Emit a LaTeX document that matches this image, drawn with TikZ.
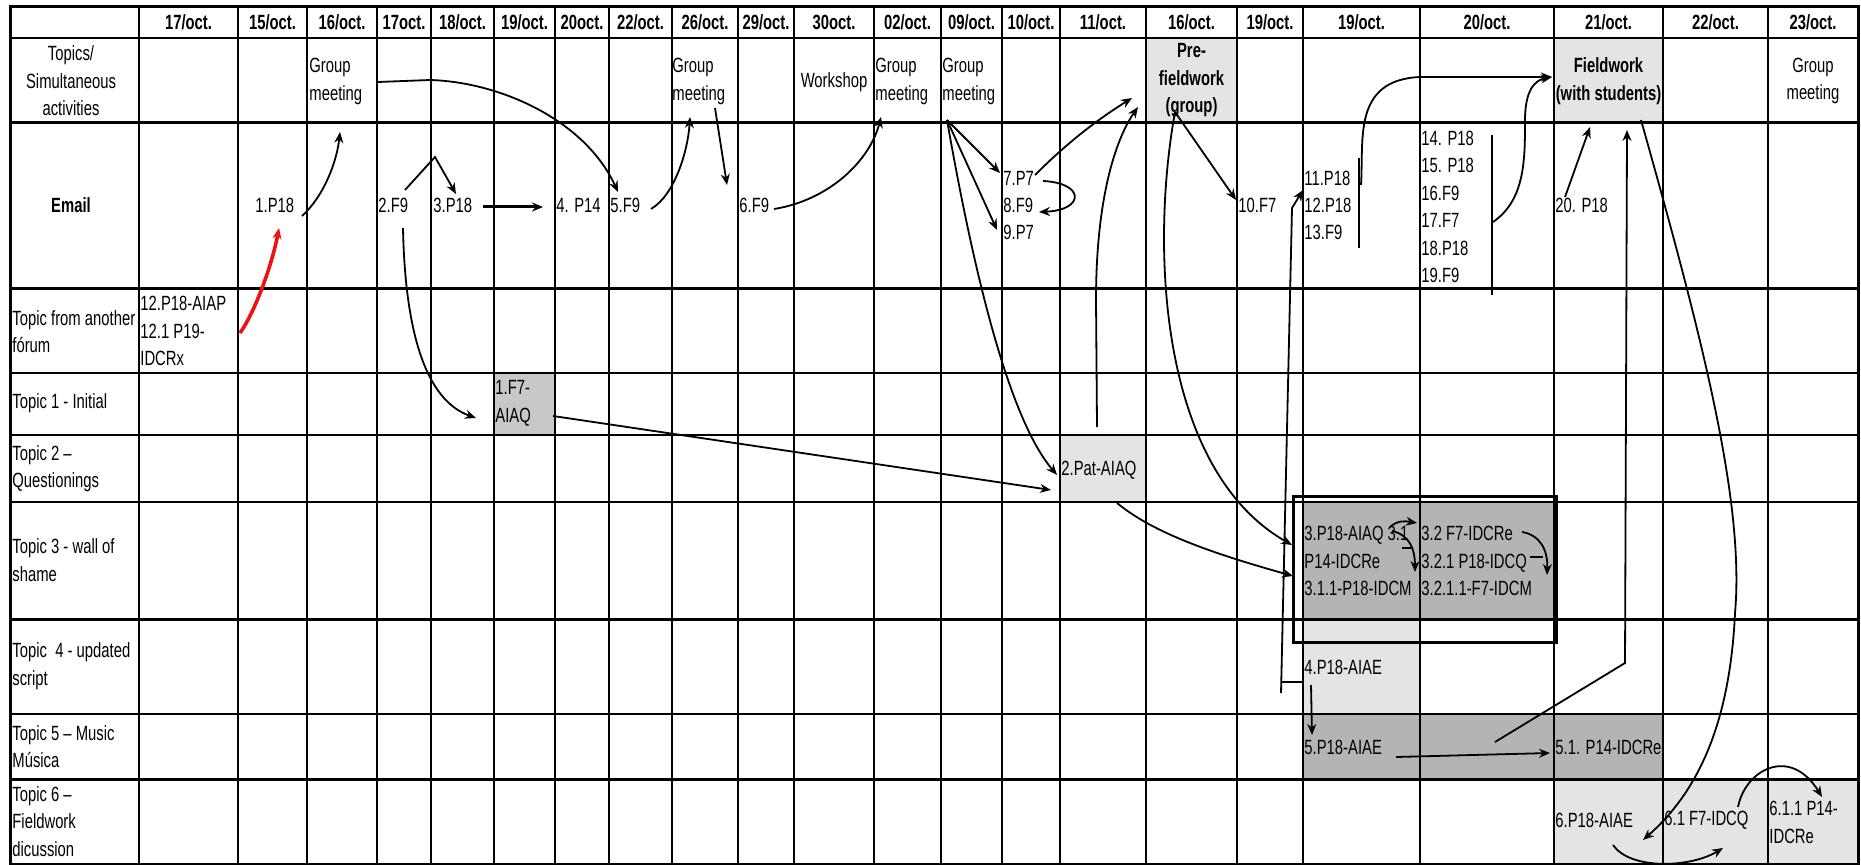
\documentclass[tikz,border=0pt]{standalone}
\usepackage{fontspec}
\setmainfont{Liberation Sans}[FakeStretch=0.72]
\usetikzlibrary{arrows.meta, calc, positioning}
\definecolor{cellLight}{RGB}{228,228,228}
\definecolor{cellMid}{RGB}{200,200,200}
\definecolor{cellDark}{RGB}{180,180,180}
\definecolor{flowRed}{RGB}{235,20,20}
\newcommand{\cellfont}{\fontsize{10.3}{13.7}\selectfont}

\begin{document}
\begin{tikzpicture}[
    x=0.5pt, y=-0.5pt,
    cell/.style={inner sep=0pt, anchor=west, align=left, font=\cellfont},
    mid/.style={inner sep=0pt, align=center, font=\cellfont},
    head/.style={inner sep=0pt, align=center, font={\cellfont\bfseries}},
    flow/.style={-{Stealth[length=5.5pt,width=4.5pt]}, line width=0.9pt},
    bar/.style={line width=0.9pt},
    grid/.style={line width=0.9pt},
    rule/.style={line width=1.5pt}
  ]
  \useasboundingbox (0,0) rectangle (1861,865);

  % shaded cells
  \fill[cellLight] (1146,38) rectangle (1237,123);
  \fill[cellLight] (1554,38) rectangle (1663,123);
  \fill[cellMid] (494,373) rectangle (555,435);
  \fill[cellLight] (1060,435) rectangle (1146,502);
  \fill[cellDark] (1303,502) rectangle (1554,619);
  \fill[cellLight] (1303,619) rectangle (1420,714);
  \fill[cellDark] (1303,714) rectangle (1663,779);
  \fill[cellLight] (1554,779) rectangle (1858,864);

  % table lines
  \foreach \x in {139,238,307,377,431,494,555,609,672,738,794,874,941,1002,1060,1146,1237,1303,1420,1554,1663,1768}
    \draw[grid] (\x,7) -- (\x,864);
  \foreach \y in {38,373,435,502,714}
    \draw[grid] (10,\y) -- (1858,\y);
  \foreach \y in {123,289,619,779}
    \draw[rule] (10,\y) -- (1858,\y);
  \draw[rule] (10,7) rectangle (1858,864);

  % dates
  \foreach \a/\b/\t [count=\i] in {139/238/{17/oct.}, 238/307/{15/oct.}, 307/377/{16/oct.},
      377/431/{17oct.}, 431/494/{18/oct.}, 494/555/{19/oct.}, 555/609/{20oct.},
      609/672/{22/oct.}, 672/738/{26/oct.}, 738/794/{29/oct.}, 794/874/{30oct.},
      874/941/{02/oct.}, 941/1002/{09/oct.}, 1002/1060/{10/oct.}, 1060/1146/{11/oct.},
      1146/1237/{16/oct.}, 1237/1303/{19/oct.}, 1303/1420/{19/oct.}, 1420/1554/{20/oct.},
      1554/1663/{21/oct.}, 1663/1768/{22/oct.}, 1768/1858/{23/oct.}}
    \node[head] (d\i) at ({(\a+\b)/2},22.5) {\t};

  % row labels
  \node[mid] (top) at (71,81) {Topics/\\Simultaneous\\activities};
  \node[head] (lemail) at (71,205) {Email};
  \node[cell] (lother) at (12,331.5) {Topic from another\\fórum};
  \node[cell] (l1) at (12,403) {Topic 1 - Initial};
  \node[cell] (l2) at (12,468.5) {Topic 2 –\\Questionings};
  \node[cell] (l3) at (12,560) {Topic 3 - wall of\\shame};
  \node[cell] (l4) at (12,666) {Topic\ \ 4 - updated\\script};
  \node[cell] (l5) at (12,746.5) {Topic 5 – Music\\Música};
  \node[cell] (l6) at (12,821.5) {Topic 6 –\\Fieldwork\\dicussion};

  % simultaneous activities
  \node[cell] (gm16) at (309,81.5) {Group\\meeting};
  \node[cell] (gm26) at (672,81.5) {Group\\meeting};
  \node[mid] (ws) at (834,82) {Workshop};
  \node[cell] (gm02) at (875,81.5) {Group\\meeting};
  \node[cell] (gm09) at (942,81.5) {Group\\meeting};
  \node[head] (pre) at (1191.5,80.5) {Pre-\\fieldwork\\(group)};
  \node[head] (fw) at (1608.5,81) {Fieldwork\\(with students)};
  \node[mid] (gm23) at (1813,81) {Group\\meeting};

  % emails
  \node[cell] (e1) at (255,205) {1.P18};
  \node[cell] (e2) at (378,205) {2.F9};
  \node[cell] (e3) at (433,205) {3.P18};
  \node[cell] (e4) at (556,205) {4. P14};
  \node[cell] (e5) at (610,205) {5.F9};
  \node[cell] (e6) at (739,205) {6.F9};
  \node[cell] (e7) at (1003,178) {7.P7};
  \node[cell] (e8) at (1003,205) {8.F9};
  \node[cell] (e9) at (1003,232) {9.P7};
  \node[cell] (e10) at (1238,205) {10.F7};
  \node[cell] (e11) at (1304,178) {11.P18};
  \node[cell] (e12) at (1304,205) {12.P18};
  \node[cell] (e13) at (1304,232) {13.F9};
  \node[cell] (e14) at (1421,138) {14. P18};
  \node[cell] (e15) at (1421,165) {15. P18};
  \node[cell] (e16) at (1421,193) {16.F9};
  \node[cell] (e17) at (1421,220) {17.F7};
  \node[cell] (e18) at (1421,248) {18.P18};
  \node[cell] (e19) at (1421,275) {19.F9};
  \node[cell] (e20) at (1555,205) {20. P18};

  % topics
  \node[cell] (t12) at (140,331) {12.P18-AIAP\\12.1 P19-\\IDCRx};
  \node[cell] (t1) at (495,403.5) {1.F7-\\AIAQ};
  \node[cell] (t2) at (1061,470) {2.Pat-AIAQ};
  \node[cell] (t3a) at (1304,561) {3.P18-AIAQ 3.1\\P14-IDCRe\\3.1.1-P18-IDCM};
  \node[cell] (t3b) at (1421,561) {3.2 F7-IDCRe\\3.2.1 P18-IDCQ\\3.2.1.1-F7-IDCM};
  \node[cell] (t4) at (1304,667) {4.P18-AIAE};
  \node[cell] (t5) at (1304,747) {5.P18-AIAE};
  \node[cell] (t51) at (1555,747) {5.1. P14-IDCRe};
  \node[cell] (t6) at (1555,820) {6.P18-AIAE};
  \node[cell] (t61) at (1664,820) {6.1 F7-IDCQ};
  \node[cell] (t611) at (1769,822.5) {6.1.1 P14-\\IDCRe};

  \coordinate (gmtip) at (727,185);
  \coordinate (brk) at (1281,693);
  \coordinate (fan) at ([shift={(5,38.5)}]gm09.west);
  \coordinate (preout) at ([shift={(-16.5,31.5)}]pre.center);

  % arrows
  \draw[flow, flowRed, line width=1.8pt] ([shift={(100,2)}]t12.west) .. controls (255,312) and (272,265) .. ([shift={(24,23)}]e1.west);
  \draw[flow] ([shift={(47,11)}]e1.west) .. controls (325,195) and (337,160) .. ([shift={(31,50.5)}]gm16.west);
  \draw[flow] ([shift={(69,0.5)}]gm16.west) -- (430,80) .. controls (500,82) and (585,120) .. ([shift={(8,-13)}]e5.west);
  \draw[flow] ([shift={(27,-15)}]e2.west) -- (435,157) -- ([shift={(23,-11)}]e3.west);
  \draw[flow, line width=1.5pt] ([shift={(50,2)}]e3.west) -- ([shift={(-13,2)}]e4.west);
  \draw[flow] ([shift={(25,23)}]e2.west) .. controls (405,330) and (425,400) .. ([shift={(-19,14.5)}]t1.west);
  \draw[flow] ([shift={(41,4)}]e5.west) .. controls (675,195) and (688,150) .. ([shift={(18,35.5)}]gm26.west);
  \draw[flow] ([shift={(43,26.5)}]gm26.west) -- (gmtip);
  \draw[flow] ([shift={(35,4)}]e6.west) .. controls (830,200) and (870,160) .. ([shift={(6,35.5)}]gm02.west);
  \draw[flow] (fan) -- ([shift={(-3,-5)}]e7.west);
  \draw[flow] (fan) -- ([shift={(-6,-2)}]e9.west);
  \draw[flow] (fan) .. controls (975,280) and (1010,420) .. ([shift={(-4,5)}]t2.west);
  \draw[flow] ([shift={(40,3)}]e7.west) .. controls (1085,183) and (1085,210) .. ([shift={(36,7)}]e8.west);
  \draw[flow] ([shift={(32,-3)}]e7.west) .. controls (1070,140) and (1100,118) .. ([shift={(-59.5,17.5)}]pre.center);
  \draw[flow] ([shift={(36,-43)}]t2.west) -- (1096,300) .. controls (1096,200) and (1115,140) .. ([shift={(-53.5,26.5)}]pre.center);
  \draw[flow] (preout) .. controls (1150,250) and (1160,470) .. ([shift={(-12,-16)}]t3a.west);
  \draw[flow] (preout) -- ([shift={(-2,-5)}]e10.west);
  \draw[flow] ([shift={(58,12.5)}]t1.west) -- ([shift={(-10,20)}]t2.west);
  \draw[flow] ([shift={(56,33)}]t2.west) .. controls (1150,530) and (1200,550) .. ([shift={(-11,15)}]t3a.west);

  % email groups to fieldwork
  \draw[bar] ([shift={(55,-20)}]e11.west) -- ([shift={(55,16)}]e13.west);
  \draw[flow] ([shift={(57,-20)}]e12.west) .. controls (1364,140) and (1352,80) .. (1420,77) -- ([shift={(-56.5,-4)}]fw.center);
  \draw[bar] ([shift={(71,-3)}]e14.west) -- ([shift={(71,20)}]e19.west);
  \draw[flow] ([shift={(72,2)}]e17.west) .. controls (1525,200) and (1525,160) .. (1525,120) .. controls (1525,90) and (1535,80) .. ([shift={(-56.5,-4)}]fw.center);
  \draw[flow] ([shift={(10,-8)}]e20.west) -- ([shift={(-18.5,46)}]fw.center);
  \draw[flow] ([shift={(191,-5)}]t5.west) -- (1625,663) -- ([shift={(18.5,49)}]fw.center);

  % topics 3 to 5
  \draw[rule] (1293,496) rectangle (1556,642);
  \draw[flow] ([shift={(86,-34)}]t3a.west) .. controls (1398,520) and (1405,521) .. ([shift={(-4,-38)}]t3b.west);
  \draw[flow] ([shift={(88,-30)}]t3a.west) .. controls (1410,535) and (1415,550) .. ([shift={(-6,11)}]t3b.west);
  \draw[bar] ([shift={(98,-13)}]t3a.west) -- ++(11,0);
  \draw[flow] ([shift={(101,-29)}]t3b.west) .. controls (1540,535) and (1548,550) .. ([shift={(126,14)}]t3b.west);
  \draw[bar] ([shift={(109,-4)}]t3b.west) -- ++(13,0);
  \draw[bar] ([shift={(-1,15)}]t4.west) -- ++(-22,0);
  \draw[flow] (brk) -- (1292,208) -- ([shift={(-1,-15)}]e12.west);
  \draw[flow] ([shift={(7,18)}]t4.west) -- ([shift={(8,-12)}]t5.west);
  \draw[flow] ([shift={(92,10)}]t5.west) -- ([shift={(-5,6)}]t51.west);

  % fieldwork discussion
  \draw[flow] ([shift={(32.5,39)}]fw.center) .. controls (1700,330) and (1745,500) .. (1735,613) .. controls (1730,720) and (1700,790) .. ([shift={(88,20)}]t6.west);
  \draw[flow] ([shift={(58,25)}]t6.west) .. controls (1630,870) and (1690,868) .. ([shift={(59,28)}]t61.west);
  \draw[flow] ([shift={(74,-13)}]t61.west) .. controls (1745,770) and (1790,745) .. ([shift={(53,-25.5)}]t611.west);
\end{tikzpicture}
\end{document}
